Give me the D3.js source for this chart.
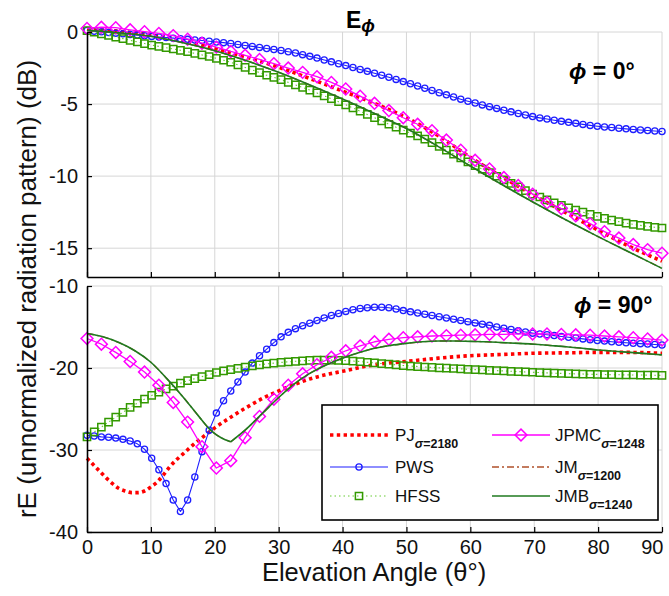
<!DOCTYPE html>
<html>
<head>
<meta charset="utf-8">
<script src="https://cdn.jsdelivr.net/npm/d3@7"></script>
<style>
  html, body { margin: 0; padding: 0; background: #fff; }
  svg { display: block; font-family: "Liberation Sans", Arial, Helvetica, sans-serif; }
</style>
</head>
<body>
<svg id="chart" width="669" height="596"></svg>
<script>
// ---------- data ----------
// elevation sampling (degrees)
const thetaFine = d3.range(81).map(i => i * 1.125);      // PWS, HFSS
const thetaJPMC = d3.range(41).map(i => i * 2.25);       // JPMC
const theta5 = d3.range(0, 91, 5);                       // PJ / JM / JMB, phi = 0
const thetaPJ90 = [0,1,2,3,4,5,6,7,8,9,10,11,12,13,14,15,16,17,18,19,20,
                   22.5,25,27.5,30,32.5,35,37.5,40,45,50,55,60,65,70,75,80,85,90];
const thetaJMB90 = [0,2.5,5,7.5,10,12.5,15,17.5,19,20,21,22.5,25,27.5,30,32.5,35,37.5,40,
                    42.5,45,47.5,50,52.5,55,57.5,60,62.5,65,67.5,70,72.5,75,77.5,80,
                    82.5,85,87.5,90];

const xTicks = [0,10,20,30,40,50,60,70,80,90];
const yTicksTop = [0,-5,-10,-15];
const yTicksBottom = [-10,-20,-30,-40];

// phi = 0 deg
const pjTop = [0.2,0.05,-0.2,-0.6,-1.15,-1.75,-2.45,-3.25,-4.1,-4.95,-5.95,-7.2,-8.7,
               -10.05,-11.35,-12.55,-13.75,-14.9,-15.9];
const pwsTop = [0.10,0.055,0.01,-0.035,-0.08,-0.125,-0.17,-0.215,-0.26,-0.305,
                -0.345,-0.385,-0.425,-0.465,-0.51,-0.55,-0.59,-0.64,-0.69,-0.74,
                -0.80,-0.87,-0.94,-1.00,-1.07,-1.14,-1.21,-1.28,-1.37,-1.46,
                -1.57,-1.69,-1.81,-1.94,-2.07,-2.20,-2.33,-2.46,-2.60,-2.73,
                -2.86,-3.00,-3.14,-3.29,-3.44,-3.59,-3.75,-3.90,-4.06,-4.22,
                -4.36,-4.51,-4.66,-4.80,-4.93,-5.06,-5.18,-5.30,-5.43,-5.54,
                -5.65,-5.76,-5.87,-5.96,-6.04,-6.12,-6.20,-6.27,-6.34,-6.41,
                -6.48,-6.54,-6.59,-6.63,-6.68,-6.72,-6.76,-6.80,-6.83,-6.87,
                -6.90];
const hfssTop = [0.10,-0.01,-0.13,-0.24,-0.35,-0.46,-0.58,-0.69,-0.80,-0.91,
                 -1.00,-1.09,-1.18,-1.27,-1.37,-1.48,-1.59,-1.70,-1.83,-1.96,
                 -2.10,-2.28,-2.46,-2.64,-2.82,-3.00,-3.15,-3.31,-3.49,-3.67,
                 -3.85,-4.03,-4.23,-4.43,-4.63,-4.84,-5.05,-5.27,-5.50,-5.72,
                 -5.95,-6.17,-6.40,-6.61,-6.81,-7.01,-7.21,-7.43,-7.68,-7.93,
                 -8.20,-8.47,-8.74,-9.01,-9.27,-9.51,-9.76,-10.01,-10.26,-10.50,
                 -10.75,-11.00,-11.25,-11.45,-11.65,-11.85,-12.03,-12.20,-12.36,-12.50,
                 -12.65,-12.80,-12.93,-13.05,-13.16,-13.26,-13.35,-13.42,-13.49,-13.55,
                 -13.60];
const jpmcTop = [0.25,0.33,0.30,0.15,0.02,-0.10,-0.25,-0.50,-0.78,-1.05,
                 -1.35,-1.62,-1.90,-2.20,-2.50,-2.80,-3.10,-3.50,-3.95,-4.45,
                 -4.95,-5.45,-5.95,-6.40,-6.85,-7.50,-8.20,-8.90,-9.50,-10.10,
                 -10.65,-11.25,-11.85,-12.25,-12.75,-13.30,-13.85,-14.30,-14.75,-15.10,
                 -15.35];
const jmTop = [0.1,-0.05,-0.3,-0.75,-1.3,-2.0,-2.8,-3.7,-4.65,-5.65,-6.7,-7.95,-9.3,
               -10.6,-11.85,-13.05,-14.2,-15.3,-16.4];
const jmbTop = [0.1,-0.05,-0.3,-0.75,-1.3,-2.0,-2.8,-3.7,-4.65,-5.65,-6.7,-7.95,-9.3,
                -10.6,-11.85,-13.05,-14.2,-15.3,-16.4];

// phi = 90 deg
const pjBottom = [-31.0,-31.8,-32.6,-33.4,-34.1,-34.7,-35.0,-35.2,-35.2,-35.0,-34.5,
                  -33.9,-33.0,-32.0,-31.2,-30.5,-29.8,-29.1,-28.5,-27.9,-27.3,
                  -26.0,-24.8,-23.7,-22.8,-22.0,-21.3,-20.8,-20.4,
                  -19.6,-19.2,-18.8,-18.5,-18.35,-18.2,-18.15,-18.1,-18.1,-18.2];
const pwsBottom = [-28.2,-28.3,-28.4,-28.45,-28.55,-28.7,-28.9,-29.25,-29.9,-31.0,
                   -32.4,-34.1,-36.1,-37.5,-36.1,-33.3,-30.2,-27.6,-25.5,-24.0,
                   -22.8,-21.7,-20.5,-19.4,-18.5,-17.7,-16.9,-16.2,-15.65,-15.2,
                   -14.85,-14.55,-14.2,-13.9,-13.6,-13.35,-13.1,-12.9,-12.75,-12.65,
                   -12.6,-12.6,-12.65,-12.8,-13.0,-13.15,-13.3,-13.45,-13.6,-13.75,
                   -13.9,-14.05,-14.2,-14.35,-14.5,-14.65,-14.8,-15.0,-15.15,-15.3,
                   -15.45,-15.6,-15.75,-15.85,-15.95,-16.05,-16.15,-16.25,-16.35,-16.45,
                   -16.55,-16.65,-16.72,-16.8,-16.87,-16.93,-16.98,-17.03,-17.08,-17.13,
                   -17.2];
const hfssBottom = [-28.4,-27.8,-27.2,-26.6,-26.0,-25.4,-24.8,-24.3,-23.8,-23.35,
                    -22.95,-22.55,-22.2,-21.85,-21.55,-21.3,-21.05,-20.8,-20.55,-20.35,
                    -20.2,-20.05,-19.9,-19.75,-19.62,-19.5,-19.4,-19.32,-19.25,-19.18,
                    -19.12,-19.08,-19.05,-19.04,-19.04,-19.06,-19.1,-19.15,-19.22,-19.3,
                    -19.38,-19.46,-19.54,-19.62,-19.7,-19.76,-19.82,-19.88,-19.93,-19.98,
                    -20.02,-20.06,-20.1,-20.16,-20.2,-20.24,-20.28,-20.32,-20.36,-20.4,
                    -20.44,-20.48,-20.52,-20.56,-20.6,-20.63,-20.66,-20.69,-20.72,-20.74,
                    -20.76,-20.78,-20.8,-20.82,-20.83,-20.84,-20.85,-20.86,-20.87,-20.88,
                    -20.9];
const jpmcBottom = [-16.4,-17.1,-18.1,-19.2,-20.5,-22.1,-24.2,-26.6,-29.6,-32.2,
                    -31.3,-28.5,-25.9,-23.8,-22.1,-20.7,-19.6,-18.7,-17.9,-17.3,
                    -16.8,-16.5,-16.3,-16.2,-16.1,-16.05,-16.0,-15.95,-15.9,-15.9,
                    -15.85,-15.85,-15.85,-15.9,-15.95,-16.0,-16.1,-16.2,-16.3,-16.45,
                    -16.6];
const jmBottom = [-15.8,-16.2,-16.9,-17.9,-19.3,-21.3,-23.5,-25.9,-27.3,-28.0,-28.5,
                  -29.0,-27.4,-25.5,-23.6,-21.9,-20.6,-19.6,-18.8,-18.15,-17.6,
                  -17.25,-17.0,-16.8,-16.7,-16.7,-16.75,-16.8,-16.9,-17.0,-17.1,
                  -17.25,-17.4,-17.6,-17.8,-17.95,-18.1,-18.25,-18.4];
const jmbBottom = [-15.8,-16.2,-16.9,-17.9,-19.3,-21.3,-23.5,-25.9,-27.3,-28.0,-28.5,
                   -29.0,-27.4,-25.5,-23.6,-21.9,-20.6,-19.6,-18.8,-18.15,-17.6,
                   -17.25,-17.0,-16.8,-16.7,-16.7,-16.75,-16.8,-16.9,-17.0,-17.1,
                   -17.25,-17.4,-17.6,-17.8,-17.95,-18.1,-18.25,-18.4];

// ---------- styles ----------
const STY = {
  PJ:   { color: "#ff0000", width: 3.6, dash: "3.4 3.4", curve: d3.curveMonotoneX },
  PWS:  { color: "#1e1eff", width: 1.1, marker: "circle", curve: d3.curveLinear },
  HFSS: { color: "#66cc33", width: 1.1, dash: "1.5 3", marker: "square", mcolor: "#339900", curve: d3.curveLinear },
  JPMC: { color: "#ff00ff", width: 1.3, marker: "diamond", curve: d3.curveLinear },
  JM:   { color: "#b0502a", width: 1.4, dash: "7 3 2 3", curve: d3.curveMonotoneX },
  JMB:  { color: "#1f7a1f", width: 1.6, curve: d3.curveMonotoneX }
};

const zip = (t, v) => t.map((d, i) => [d, v[i]]);

const svg = d3.select("#chart");
const x = d3.scaleLinear().domain([0, 90]).range([87, 662]);

const panels = [
  {
    y: d3.scaleLinear().domain([-17, 0]).range([277, 32]),
    ticks: yTicksTop, showX: false,
    series: [
      { key: "PJ",   pts: zip(theta5, pjTop) },
      { key: "PWS",  pts: zip(thetaFine, pwsTop) },
      { key: "HFSS", pts: zip(thetaFine, hfssTop) },
      { key: "JPMC", pts: zip(thetaJPMC, jpmcTop) },
      { key: "JM",   pts: zip(theta5, jmTop) },
      { key: "JMB",  pts: zip(theta5, jmbTop) }
    ]
  },
  {
    y: d3.scaleLinear().domain([-40, -10]).range([532, 286]),
    ticks: yTicksBottom, showX: true,
    series: [
      { key: "PJ",   pts: zip(thetaPJ90, pjBottom) },
      { key: "PWS",  pts: zip(thetaFine, pwsBottom) },
      { key: "HFSS", pts: zip(thetaFine, hfssBottom) },
      { key: "JPMC", pts: zip(thetaJPMC, jpmcBottom) },
      { key: "JM",   pts: zip(thetaJMB90, jmBottom), sharpMin: true },
      { key: "JMB",  pts: zip(thetaJMB90, jmbBottom), sharpMin: true }
    ]
  }
];

function drawMarkers(g, kind, pts, px, py, color) {
  if (kind === "circle") {
    g.selectAll("circle").data(pts).join("circle")
      .attr("cx", d => px(d[0])).attr("cy", d => py(d[1])).attr("r", 3.1)
      .attr("fill", "none").attr("stroke", color).attr("stroke-width", 1.3);
  } else if (kind === "square") {
    const sym = d3.symbol(d3.symbolSquare, 52);
    g.selectAll("path.m").data(pts).join("path").attr("class", "m")
      .attr("d", sym)
      .attr("transform", d => `translate(${px(d[0])},${py(d[1])})`)
      .attr("fill", "none").attr("stroke", color).attr("stroke-width", 1.5);
  } else if (kind === "diamond") {
    const sym = d3.symbol(d3.symbolSquare, 70);
    g.selectAll("path.m").data(pts).join("path").attr("class", "m")
      .attr("d", sym)
      .attr("transform", d => `translate(${px(d[0])},${py(d[1])}) rotate(45)`)
      .attr("fill", "none").attr("stroke", color).attr("stroke-width", 1.5);
  }
}

function drawSeries(g, s, yScale) {
  const st = STY[s.key];
  const line = d3.line().x(d => x(d[0])).y(d => yScale(d[1])).curve(s.curve || st.curve);
  const sg = g.append("g").attr("class", "series-" + s.key);
  // the null is a cusp: split the smooth curve at the deepest point
  let parts = [s.pts];
  if (s.sharpMin) {
    const k = d3.minIndex(s.pts, d => d[1]);
    parts = [s.pts.slice(0, k + 1), s.pts.slice(k)];
  }
  const d = parts.map(pp => line(pp)).join("");
  sg.append("path").attr("d", d)
    .attr("fill", "none").attr("stroke", st.color).attr("stroke-width", st.width)
    .attr("stroke-dasharray", st.dash || null).attr("stroke-linejoin", "round");
  if (st.marker) drawMarkers(sg, st.marker, s.pts, x, yScale, st.mcolor || st.color);
}

panels.forEach(p => {
  const g = svg.append("g");
  const [yb, yt] = p.y.range();

  // grid
  g.append("g").selectAll("line").data(xTicks.filter(t => t > 0)).join("line")
    .attr("x1", d => x(d)).attr("x2", d => x(d)).attr("y1", yb).attr("y2", yt)
    .attr("stroke", "#d6d6d6").attr("stroke-width", 1);
  g.append("g").selectAll("line").data(p.ticks).join("line")
    .attr("x1", x(0)).attr("x2", x(90)).attr("y1", d => p.y(d)).attr("y2", d => p.y(d))
    .attr("stroke", "#d6d6d6").attr("stroke-width", 1);

  // data
  p.series.forEach(s => drawSeries(g, s, p.y));

  // axes (inward ticks)
  const ax = g.append("g").attr("transform", `translate(0,${yb})`)
    .call(d3.axisBottom(x).tickValues(xTicks).tickSizeInner(-5).tickSizeOuter(0)
      .tickPadding(8).tickFormat(p.showX ? d3.format("d") : () => ""));
  const ay = g.append("g").attr("transform", `translate(${x(0)},0)`)
    .call(d3.axisLeft(p.y).tickValues(p.ticks).tickSizeInner(-5).tickSizeOuter(0)
      .tickPadding(9).tickFormat(d => String(d)));
  [ax, ay].forEach(a => {
    a.attr("font-family", null).attr("font-size", null);
    a.select(".domain").attr("stroke", "#000").attr("stroke-width", 1.6);
    a.selectAll(".tick line").attr("stroke", "#000").attr("stroke-width", 1.2);
    a.selectAll(".tick text").attr("fill", "#111").style("font-size", "20px");
  });
  // last label kept inside the figure
  ax.selectAll(".tick text").filter(d => d === 90).attr("text-anchor", "end").attr("x", 1);
});

// titles
const title = svg.append("text").attr("x", 346).attr("y", 28)
  .style("font-size", "23px").style("font-weight", "bold");
title.append("tspan").text("E");
title.append("tspan").attr("dy", 4).style("font-size", "18px").style("font-style", "italic").text("ϕ");

function phiLabel(xp, yp, txt) {
  const t = svg.append("text").attr("x", xp).attr("y", yp)
    .style("font-size", "23px").style("font-weight", "bold");
  t.append("tspan").style("font-style", "italic").text("ϕ");
  t.append("tspan").text(" = " + txt);
}
phiLabel(569, 79, "0°");
phiLabel(574, 313, "90°");

svg.append("text").attr("x", 374).attr("y", 581).attr("text-anchor", "middle")
  .style("font-size", "25.5px").attr("fill", "#111").text("Elevation Angle (θ°)");
svg.append("text").attr("transform", "translate(36,289) rotate(-90)")
  .attr("text-anchor", "middle").style("font-size", "26px").attr("fill", "#111")
  .text("rE (unnormalized radiation pattern) (dB)");

// legend
const legendItems = [
  { key: "PJ",   name: "PJ",   sub: "=2180", col: 0, row: 0 },
  { key: "PWS",  name: "PWS",  sub: null,    col: 0, row: 1 },
  { key: "HFSS", name: "HFSS", sub: null,    col: 0, row: 2 },
  { key: "JPMC", name: "JPMC", sub: "=1248", col: 1, row: 0 },
  { key: "JM",   name: "JM",   sub: "=1200", col: 1, row: 1 },
  { key: "JMB",  name: "JMB",  sub: "=1240", col: 1, row: 2 }
];
const lg = svg.append("g");
lg.append("rect").attr("x", 322).attr("y", 405).attr("width", 336).attr("height", 115)
  .attr("fill", "#fff").attr("stroke", "#000").attr("stroke-width", 1.6);
const rowY = [435, 467, 496];
const colX = [[330, 388, 395], [492, 550, 555]];
legendItems.forEach(it => {
  const st = STY[it.key];
  const [x1, x2, tx] = colX[it.col];
  const yy = rowY[it.row];
  const ig = lg.append("g");
  ig.append("line").attr("x1", x1).attr("x2", x2).attr("y1", yy).attr("y2", yy)
    .attr("stroke", st.color).attr("stroke-width", st.width)
    .attr("stroke-dasharray", st.dash || null);
  if (st.marker) {
    const cx = (x1 + x2) / 2;
    drawMarkers(ig, st.marker, [[cx, yy]], v => v, v => v, st.mcolor || st.color);
  }
  const t = ig.append("text").attr("x", tx).attr("y", yy + 6)
    .style("font-size", "17px").attr("fill", "#111");
  t.append("tspan").text(it.name);
  if (it.sub) {
    const s = t.append("tspan").attr("dy", 7).style("font-size", "12.5px").style("font-weight", "bold");
    s.append("tspan").style("font-style", "italic").text("σ");
    s.append("tspan").text(it.sub);
  }
});
</script>
</body>
</html>
